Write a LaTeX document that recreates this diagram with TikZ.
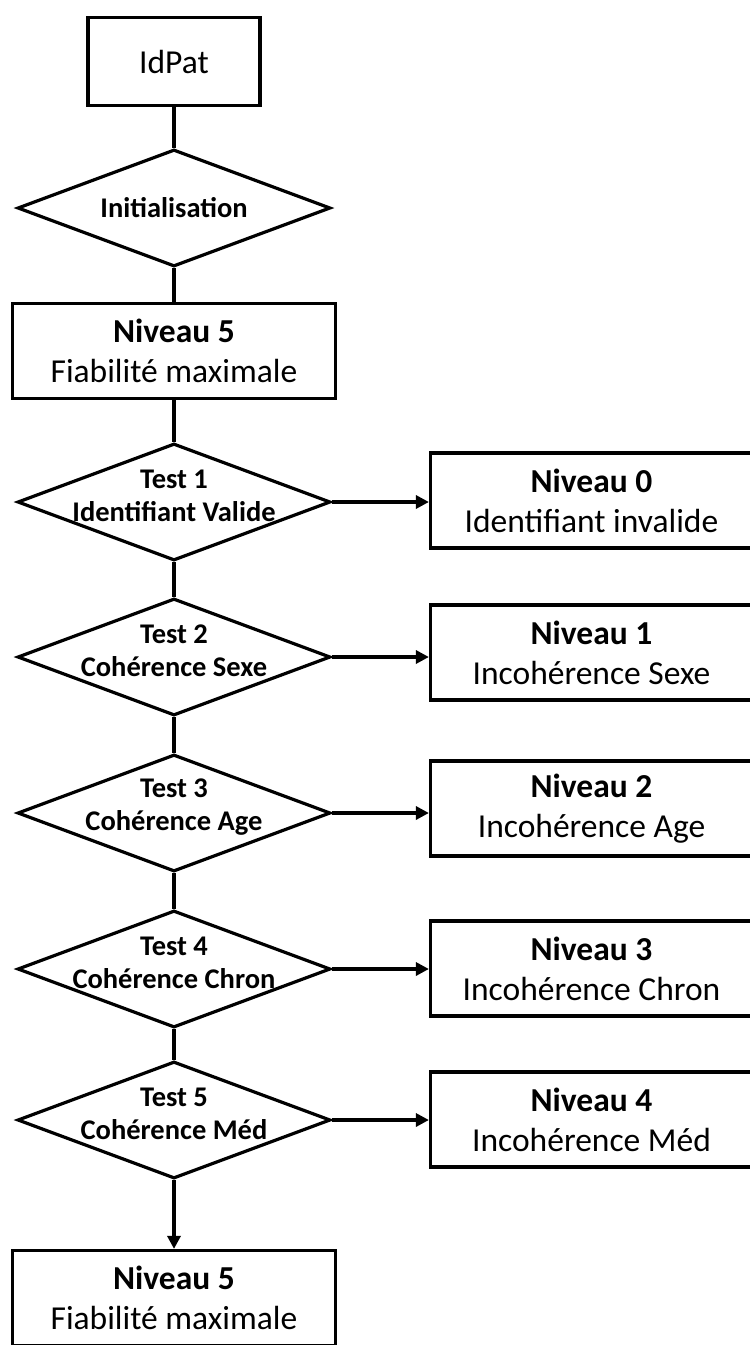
\documentclass[tikz,border=0pt]{standalone}
\usepackage{fontspec}
\setmainfont{Carlito}
\usetikzlibrary{shapes.geometric,arrows.meta}
\begin{document}
\begin{tikzpicture}[x=1pt,y=-1pt,
  box/.style={draw, line width=3.2pt, rectangle, inner sep=0pt, align=center,
    minimum width=323pt, minimum height=95pt, font=\fontsize{33.5}{40}\selectfont},
  dia/.style={draw, line width=3.2pt, diamond, inner sep=0pt,
    minimum width=313pt, minimum height=117pt},
  dtext/.style={align=center, inner sep=0pt, font=\bfseries\fontsize{28.5}{33}\selectfont},
  conn/.style={line width=3.2pt},
  arr/.style={line width=3.2pt, -{Triangle[length=13pt,width=13pt]}},
]
\useasboundingbox (0,0) rectangle (750,1345);

\node[box, minimum width=172pt, minimum height=88pt] (idpat) at (174,61.5) {IdPat};
\node[dia] (init) at (174,208) {};
\node[dtext] (initl) at (174,208) {Initialisation};
\node[box] (n5a) at (174,351) {{\bfseries Niveau 5}\\Fiabilité maximale};

\node[dia] (t1) at (174,502) {};
\node[dtext] (t1l) at (174,496) {Test 1\\Identifiant Valide};
\node[dia] (t2) at (174,657) {};
\node[dtext] (t2l) at (174,651) {Test 2\\Cohérence Sexe};
\node[dia] (t3) at (174,813) {};
\node[dtext] (t3l) at (174,807) {Test 3\\Cohérence Age};
\node[dia] (t4) at (174,969) {};
\node[dtext] (t4l) at (174,963) {Test 4\\Cohérence Chron};
\node[dia] (t5) at (174,1120) {};
\node[dtext] (t5l) at (174,1114) {Test 5\\Cohérence Méd};

\node[box, minimum width=322pt] (n0) at (591.5,500.5) {{\bfseries Niveau 0}\\Identifiant invalide};
\node[box, minimum width=322pt] (n1) at (591.5,652.5) {{\bfseries Niveau 1}\\Incohérence Sexe};
\node[box, minimum width=322pt] (n2) at (591.5,808.5) {{\bfseries Niveau 2}\\Incohérence Age};
\node[box, minimum width=322pt] (n3) at (591.5,968.5) {{\bfseries Niveau 3}\\Incohérence Chron};
\node[box, minimum width=322pt] (n4) at (591.5,1119.5) {{\bfseries Niveau 4}\\Incohérence Méd};

\node[box] (n5b) at (174,1298) {{\bfseries Niveau 5}\\Fiabilité maximale};

\draw[conn] (idpat.south) -- (init.north);
\draw[conn] (init.south) -- (n5a.north);
\draw[conn] (n5a.south) -- (t1.north);
\draw[conn] (t1.south) -- (t2.north);
\draw[conn] (t2.south) -- (t3.north);
\draw[conn] (t3.south) -- (t4.north);
\draw[conn] (t4.south) -- (t5.north);
\draw[arr] (t5.south) -- (n5b.north);

\draw[arr] (t1.east) -- (t1.east -| n0.west);
\draw[arr] (t2.east) -- (t2.east -| n1.west);
\draw[arr] (t3.east) -- (t3.east -| n2.west);
\draw[arr] (t4.east) -- (t4.east -| n3.west);
\draw[arr] (t5.east) -- (t5.east -| n4.west);
\end{tikzpicture}
\end{document}
